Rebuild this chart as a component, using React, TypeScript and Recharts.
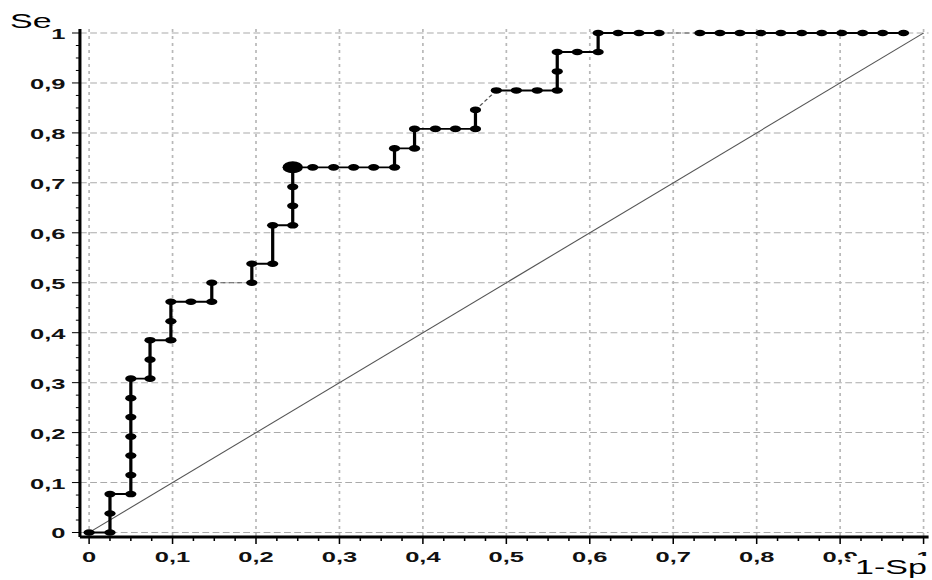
import React from 'react'
import {
  ComposedChart,
  Line,
  XAxis,
  YAxis,
  CartesianGrid
} from 'recharts'

// The reference picture is stretched horizontally (dots are ellipses, text is wide),
// so the chart is drawn narrow and then scaled along x.
const STRETCH = 1.7007
const INNER_W = 548
const H = 580
const FONT = "'Liberation Sans', Arial, sans-serif"

const majorTicks = [0, 0.1, 0.2, 0.3, 0.4, 0.5, 0.6, 0.7, 0.8, 0.9, 1]
const minorSteps = [0.025, 0.05, 0.075]
const allTicks = [
  ...majorTicks,
  ...majorTicks.slice(0, -1).flatMap((m) => minorSteps.map((s) => Math.round((m + s) * 1000) / 1000))
].sort((a, b) => a - b)

// ROC curve (1-Sp, Se), split where the original draws no thick segment
const rocRun1 = [
  { x: 0, y: 0 }, { x: 0.025, y: 0 }, { x: 0.025, y: 0.038 }, { x: 0.025, y: 0.077 },
  { x: 0.05, y: 0.077 }, { x: 0.05, y: 0.115 }, { x: 0.05, y: 0.154 }, { x: 0.05, y: 0.192 },
  { x: 0.05, y: 0.231 }, { x: 0.05, y: 0.269 }, { x: 0.05, y: 0.308 }, { x: 0.073, y: 0.308 },
  { x: 0.073, y: 0.346 }, { x: 0.073, y: 0.385 }, { x: 0.098, y: 0.385 }, { x: 0.098, y: 0.423 },
  { x: 0.098, y: 0.462 }, { x: 0.122, y: 0.462 }, { x: 0.147, y: 0.462 }, { x: 0.147, y: 0.5 }
]
const rocRun2 = [
  { x: 0.195, y: 0.5 }, { x: 0.195, y: 0.538 }, { x: 0.22, y: 0.538 }, { x: 0.22, y: 0.615 },
  { x: 0.244, y: 0.615 }, { x: 0.244, y: 0.654 }, { x: 0.244, y: 0.692 }, { x: 0.244, y: 0.731 },
  { x: 0.268, y: 0.731 }, { x: 0.293, y: 0.731 }, { x: 0.317, y: 0.731 }, { x: 0.341, y: 0.731 },
  { x: 0.366, y: 0.731 }, { x: 0.366, y: 0.769 }, { x: 0.39, y: 0.769 }, { x: 0.39, y: 0.808 },
  { x: 0.415, y: 0.808 }, { x: 0.439, y: 0.808 }, { x: 0.463, y: 0.808 }, { x: 0.463, y: 0.846 }
]
const rocRun3 = [
  { x: 0.488, y: 0.885 }, { x: 0.512, y: 0.885 }, { x: 0.537, y: 0.885 }, { x: 0.561, y: 0.885 },
  { x: 0.561, y: 0.923 }, { x: 0.561, y: 0.962 }, { x: 0.585, y: 0.962 }, { x: 0.61, y: 0.962 },
  { x: 0.61, y: 1 }, { x: 0.634, y: 1 }, { x: 0.659, y: 1 }, { x: 0.683, y: 1 }
]
const rocRun4 = [
  { x: 0.732, y: 1 }, { x: 0.756, y: 1 }, { x: 0.78, y: 1 }, { x: 0.805, y: 1 },
  { x: 0.829, y: 1 }, { x: 0.854, y: 1 }, { x: 0.878, y: 1 }, { x: 0.902, y: 1 },
  { x: 0.927, y: 1 }, { x: 0.951, y: 1 }, { x: 0.976, y: 1 }
]
// thin joins between the runs
const rocGaps = [
  [{ x: 0.147, y: 0.5 }, { x: 0.195, y: 0.5 }],
  [{ x: 0.463, y: 0.846 }, { x: 0.488, y: 0.885 }],
  [{ x: 0.683, y: 1 }, { x: 0.732, y: 1 }]
]
const bigPoint = [{ x: 0.244, y: 0.731 }]
const diagonal = [{ x: 0, y: 0 }, { x: 1, y: 1 }]

const fmt = (v: number) => String(v).replace('.', ',')

const XTick = ({ x, y, payload }: any) => {
  const major = majorTicks.includes(payload.value)
  return (
    <g>
      <line x1={x} x2={x} y1={y} y2={y + (major ? 7 : 4)} stroke="#000" strokeWidth={0.9} />
      {major && (
        <text x={x} y={y + 25} textAnchor="middle" fontSize={15} fontWeight="bold" fontFamily={FONT} fill="#111">
          {fmt(payload.value)}
        </text>
      )}
    </g>
  )
}

const YTick = ({ x, y, payload }: any) => {
  const major = majorTicks.includes(payload.value)
  return (
    <g>
      <line x1={x} x2={x - (major ? 4.7 : 2.4)} y1={y} y2={y} stroke="#000" strokeWidth={1} />
      {major && (
        <text x={x - 8.5} y={y + 6} textAnchor="end" fontSize={15} fontWeight="bold" fontFamily={FONT} fill="#111">
          {fmt(payload.value)}
        </text>
      )}
    </g>
  )
}

const dotStyle = { r: 3.3, fill: '#000', stroke: '#000', strokeWidth: 0 }

export default function App() {
  const runs = [rocRun1, rocRun2, rocRun3, rocRun4]
  return (
    <div
      style={{
        position: 'absolute',
        left: 0,
        top: 0,
        width: INNER_W,
        height: H,
        background: '#fff',
        transform: `scaleX(${STRETCH})`,
        transformOrigin: '0 0'
      }}
    >
      <ComposedChart width={INNER_W} height={H} margin={{ top: 29, right: 2, bottom: 0, left: 0 }}>
        <CartesianGrid vertical={false} horizontalValues={majorTicks} stroke="#aaa" strokeDasharray="4 2" />
        <CartesianGrid horizontal={false} verticalValues={majorTicks} stroke="#b8b8b8" strokeDasharray="3 4" />
        <XAxis
          dataKey="x"
          type="number"
          domain={[-0.011, 1.006]}
          allowDataOverflow
          ticks={allTicks}
          interval={0}
          tickSize={0}
          tickMargin={0}
          tickLine={false}
          tick={<XTick />}
          height={43}
          axisLine={{ stroke: '#000', strokeWidth: 3 }}
        />
        <XAxis
          xAxisId="top"
          orientation="top"
          type="number"
          domain={[-0.011, 1.006]}
          height={0}
          tick={false}
          tickLine={false}
          axisLine={{ stroke: '#000', strokeWidth: 1.5 }}
        />
        <YAxis
          dataKey="y"
          type="number"
          domain={[-0.009, 1.008]}
          allowDataOverflow
          ticks={allTicks}
          interval={0}
          tickSize={0}
          tickMargin={0}
          tickLine={false}
          tick={<YTick />}
          width={47}
          axisLine={{ stroke: '#000', strokeWidth: 1.8 }}
        />
        <YAxis
          yAxisId="right"
          orientation="right"
          type="number"
          domain={[-0.009, 1.008]}
          width={0}
          tick={false}
          tickLine={false}
          axisLine={{ stroke: '#888', strokeWidth: 0.7 }}
        />
        <Line
          data={diagonal}
          dataKey="y"
          type="linear"
          stroke="#555"
          strokeWidth={0.9}
          dot={false}
          activeDot={false}
          isAnimationActive={false}
        />
        {rocGaps.map((seg, i) => (
          <Line
            key={`gap-${i}`}
            data={seg}
            dataKey="y"
            type="linear"
            stroke="#555"
            strokeWidth={0.9}
            strokeDasharray="3 2"
            dot={false}
            activeDot={false}
            isAnimationActive={false}
          />
        ))}
        {runs.map((run, i) => (
          <Line
            key={`run-${i}`}
            data={run}
            dataKey="y"
            type="linear"
            stroke="#000"
            strokeWidth={1.9}
            dot={dotStyle}
            activeDot={false}
            isAnimationActive={false}
          />
        ))}
        <Line
          data={bigPoint}
          dataKey="y"
          stroke="#000"
          dot={{ r: 6, fill: '#000', stroke: '#000', strokeWidth: 0 }}
          activeDot={false}
          isAnimationActive={false}
        />
      </ComposedChart>
      <svg
        width={INNER_W}
        height={H}
        style={{ position: 'absolute', left: 0, top: 0, pointerEvents: 'none' }}
      >
        <text x={5.9} y={28} fontSize={20} fontFamily={FONT} fill="#000">
          Se
        </text>
        <rect x={500} y={556} width={48} height={24} fill="#fff" />
        <text x={545} y={574} fontSize={20} fontFamily={FONT} textAnchor="end" fill="#000">
          1-Sp
        </text>
      </svg>
    </div>
  )
}
